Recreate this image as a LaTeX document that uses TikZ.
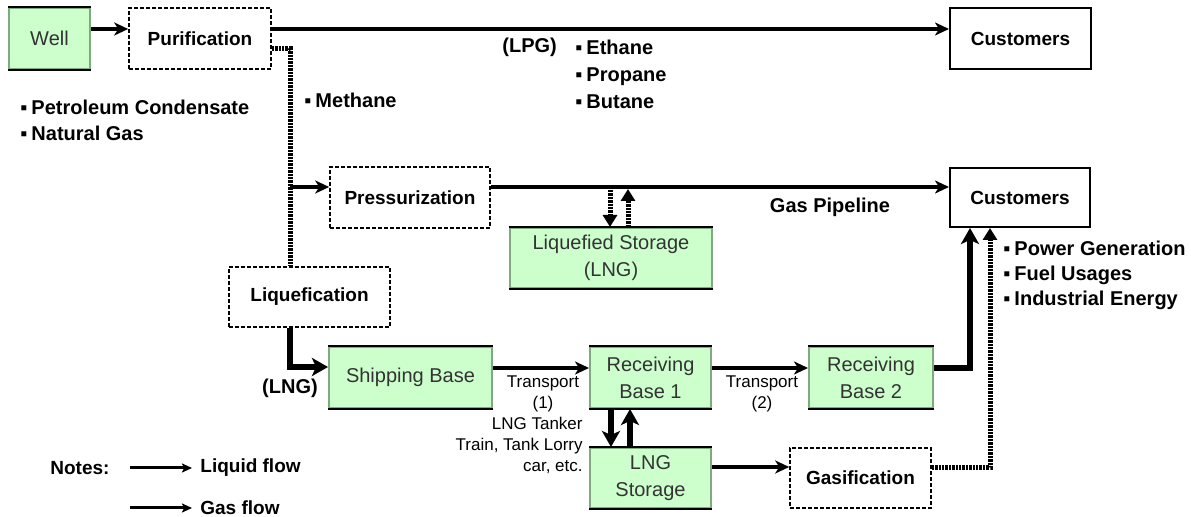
\documentclass[tikz,border=0pt]{standalone}
\usepackage{fontspec}
\setmainfont{Liberation Sans}
\usetikzlibrary{arrows.meta}
\definecolor{lg}{HTML}{CCFFCC}
\definecolor{gb}{HTML}{7FAA7F}
\definecolor{gt}{HTML}{333333}
\begin{document}
\begin{tikzpicture}[x=0.5pt,y=-0.5pt,
  box/.style={rectangle, inner sep=0pt, align=center},
  dbox/.style={box, draw, line width=0.8pt, dash pattern=on 2pt off 1pt, font=\fontsize{9.5}{12}\selectfont\bfseries},
  sbox/.style={box, draw, line width=1pt, font=\fontsize{9.5}{12}\selectfont\bfseries},
  gbox/.style={box, fill=lg, draw=gb, line width=1pt, text=gt, font=\fontsize{10}{13.5}\selectfont},
  lab/.style={inner sep=0pt, font=\fontsize{10}{13}\selectfont\bfseries},
  small/.style={inner sep=0pt, font=\fontsize{8.5}{10.5}\selectfont},
  flow/.style={line width=2pt, -{Stealth[length=7pt,width=6.5pt,inset=2pt]}},
  thickflow/.style={line width=3pt, -{Stealth[length=8pt,width=9pt,inset=2pt]}},
  dotline/.style={line width=2.5pt, dash pattern=on 1.2pt off 0.5pt},
  dotarrow/.style={dotline, -{Triangle[length=6pt,width=7pt]}},
  legarrow/.style={line width=1.5pt, -{Stealth[length=5pt,width=4.5pt,inset=1pt]}}
]
\useasboundingbox (0,0) rectangle (1191,517);

% boxes
\node[gbox, minimum width=40.5pt, minimum height=30.5pt] (well) at (49.5,38.5) {Well};
\node[dbox, minimum width=71pt, minimum height=30.5pt] (pur) at (200,38.5) {Purification};
\node[sbox, minimum width=70.5pt, minimum height=30.5pt] (c1) at (1020.5,38.5) {Customers};
\node[dbox, minimum width=80pt, minimum height=30.5pt] (pre) at (410,197.5) {Pressurization};
\node[sbox, minimum width=70pt, minimum height=29.5pt] (c2) at (1020,197.5) {Customers};
\node[gbox, minimum width=101pt, minimum height=30pt] (ls) at (611,258) {Liquefied Storage\\(LNG)};
\node[dbox, minimum width=80.5pt, minimum height=30pt] (liq) at (309.5,297) {Liquefication};
\node[gbox, minimum width=81.5pt, minimum height=30.5pt] (ship) at (410.5,377.5) {Shipping Base};
\node[gbox, minimum width=60.5pt, minimum height=30.5pt] (rb1) at (650.5,377.5) {Receiving\\Base 1};
\node[gbox, minimum width=62pt, minimum height=30.5pt] (rb2) at (871,377.5) {Receiving\\Base 2};
\node[gbox, minimum width=60.5pt, minimum height=30pt] (lngs) at (650.5,478) {LNG\\Storage};
\node[dbox, minimum width=70.5pt, minimum height=30pt] (gas) at (860.5,478) {Gasification};

% black top and bottom edges of the green boxes
\foreach \n in {well,ls,ship,rb1,rb2,lngs}{
  \draw[line width=0.6pt] (\n.north west) -- (\n.north east);
  \draw[line width=1pt] (\n.south west) -- (\n.south east);
}

% labels
\node[lab, anchor=west, align=left] (pc) at (20,120) {▪\hspace{2pt}Petroleum Condensate\\▪\hspace{2pt}Natural Gas};
\node[lab, anchor=west] (meth) at (304,100) {▪\hspace{2pt}Methane};
\node[lab, anchor=west] (lpg) at (502,47) {(LPG)};
\node[lab, anchor=west, align=left, font=\fontsize{10}{13.5}\selectfont\bfseries] (eth) at (575,74) {▪\hspace{2pt}Ethane\\▪\hspace{2pt}Propane\\▪\hspace{2pt}Butane};
\node[lab, anchor=west, align=left, font=\fontsize{10}{12.5}\selectfont\bfseries] (use) at (1003,275) {▪\hspace{2pt}Power Generation\\▪\hspace{2pt}Fuel Usages\\▪\hspace{2pt}Industrial Energy};
\node[lab] (gp) at (830,207) {Gas Pipeline};
\node[lab] (lnglab) at (290,388) {(LNG)};
\node[small, align=center] (t1) at (543,393.5) {Transport\\(1)};
\node[small, align=right, anchor=east] (tank) at (583,445) {LNG Tanker\\Train, Tank Lorry\\car, etc.};
\node[small, align=center] (t2) at (762,393.5) {Transport\\(2)};

% connectors
\coordinate (j1) at (290,49);
\coordinate (j2) at (290,187);
\coordinate (p1) at (610,190);
\coordinate (p2) at (628,189);
\draw[flow] ([yshift=4.75pt]well.east) -- ([yshift=4.75pt]pur.west);
\draw[flow] ([yshift=4.75pt]pur.east) -- ([yshift=4.75pt]c1.west);
\draw[dotline] ([yshift=-5.25pt]pur.east) -- (j1) -- (j1 |- liq.north);
\draw[flow] (j2) -- (j2 -| pre.west);
\draw[flow] ([yshift=5.25pt]pre.east) -- ([yshift=5.25pt]c2.west);
\draw[dotarrow] (p1) -- (p1 |- ls.north);
\draw[dotarrow] (p2 |- ls.north) -- (p2);
\draw[thickflow] (j1 |- liq.south) |- ([yshift=5.25pt]ship.west);
\draw[flow] ([yshift=4.75pt]ship.east) -- ([yshift=4.75pt]rb1.west);
\draw[flow] ([yshift=4.75pt]rb1.east) -- ([yshift=4.75pt]rb2.west);
\draw[thickflow] ([xshift=-19.75pt]rb1.south) -- ([xshift=-19.75pt]lngs.north);
\draw[thickflow] ([xshift=-10.25pt]lngs.north) -- ([xshift=-10.25pt]rb1.south);
\draw[flow] ([yshift=5.5pt]lngs.east) -- ([yshift=5.5pt]gas.west);
\draw[thickflow] ([yshift=4.75pt]rb2.east) -| ([xshift=-25pt]c2.south);
\draw[dotarrow] ([yshift=5pt]gas.east) -| ([xshift=-15pt]c2.south);

% legend
\node[lab, anchor=west, font=\fontsize{9.5}{12}\selectfont\bfseries] (notes) at (50,468) {Notes:};
\node[lab, anchor=west, font=\fontsize{9.5}{12}\selectfont\bfseries] (liqf) at (200,468) {Liquid flow};
\node[lab, anchor=west, font=\fontsize{9.5}{12}\selectfont\bfseries] (gasf) at (200,508) {Gas flow};
\coordinate (l1) at (130,468);
\coordinate (l2) at (130,508);
\draw[legarrow] (l1) -- ([xshift=-4pt]liqf.west);
\draw[legarrow] (l2) -- ([xshift=-4pt]gasf.west);
\end{tikzpicture}
\end{document}
